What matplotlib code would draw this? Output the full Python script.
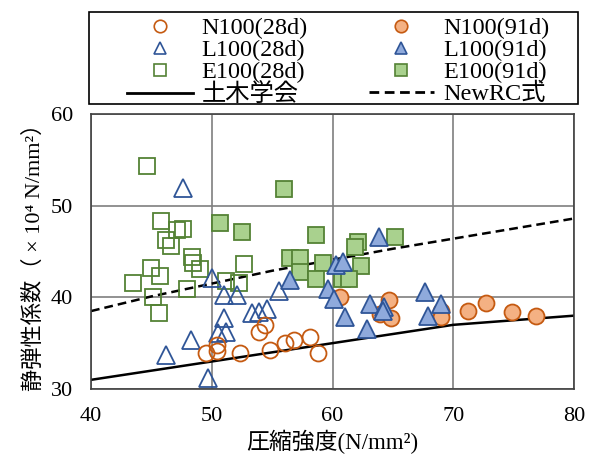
import numpy as np
import matplotlib.pyplot as plt
from matplotlib.lines import Line2D
from matplotlib.patches import Rectangle

plt.rcParams['font.family'] = ['Liberation Serif', 'Noto Sans CJK JP', 'DejaVu Serif']

# N100 (28d) open circles
n28_x = [49.5, 50.45, 50.45, 52.3, 53.9, 54.4, 54.85, 56.1, 56.85, 58.1, 58.8]
n28_y = [33.9, 34.8, 34.2, 33.9, 36.25, 37.0, 34.25, 35.0, 35.35, 35.7, 33.95]
# N100 (91d) filled circles
n91_x = [60.65, 64.65, 63.9, 64.85, 69.0, 69.0, 71.25, 72.75, 74.85, 76.85]
n91_y = [40.0, 39.7, 38.2, 37.7, 38.55, 37.9, 38.55, 39.4, 38.45, 37.95]
# L100 (28d) open triangles
l28_x = [47.6, 50.0, 51.0, 52.05, 51.0, 50.5, 51.2, 48.25, 46.25, 49.65, 53.3, 53.9, 54.6, 55.55]
l28_y = [51.9, 42.15, 40.25, 40.25, 37.8, 36.1, 36.25, 35.3, 33.7, 31.2, 38.25, 38.45, 38.7, 40.7]
# L100 (91d) filled triangles
l91_x = [63.85, 60.3, 60.85, 59.6, 60.1, 61.05, 63.1, 64.3, 64.15, 62.85, 67.65, 67.95, 69.0, 56.45]
l91_y = [46.6, 43.5, 43.9, 40.95, 39.8, 37.9, 39.25, 38.95, 38.55, 36.6, 40.6, 37.95, 39.25, 41.9]
# E100 (28d) open squares
e28_x = [44.6, 45.8, 47.1, 47.6, 46.2, 46.6, 48.4, 48.45, 49.05, 44.95, 45.7, 43.5, 47.95,
         45.1, 45.6, 52.65, 51.2, 52.25]
e28_y = [54.3, 48.35, 47.35, 47.5, 46.25, 45.6, 44.45, 43.7, 43.05, 43.15, 42.3, 41.6, 40.9,
         40.0, 38.25, 43.65, 41.75, 41.6]
# E100 (91d) filled squares
e91_x = [55.95, 50.65, 52.5, 58.6, 56.5, 57.3, 59.25, 57.3, 58.65, 62.1, 61.85, 65.2, 62.35, 60.8, 61.35]
e91_y = [51.8, 48.1, 47.1, 46.85, 44.25, 44.25, 43.8, 42.8, 42.0, 46.05, 45.45, 46.6, 43.4, 42.0, 42.0]

# design curves
jsce_x = [40, 50, 60, 70, 80]
jsce_y = [31, 33, 35, 37, 38]
newrc_x = [40, 45, 50, 55, 60, 65, 70, 75, 80]
newrc_y = [38.5, 40.1, 41.5, 42.9, 44.1, 45.3, 46.4, 47.5, 48.6]

orange_e, orange_f = '#C55A11', '#F4B183'
blue_e, blue_f = '#2F5597', '#8FAADC'
green_e, green_f = '#548235', '#A9D18E'

W, H = 593, 457
fig = plt.figure(figsize=(W / 100, H / 100), dpi=100)
ax = fig.add_axes([91 / W, 1 - 389 / H, (574 - 91) / W, (389 - 114) / H])

dash = (0, (3.5, 2))
ax.plot(jsce_x, jsce_y, color='black', lw=1.8, zorder=2)
ax.plot(newrc_x, newrc_y, color='black', lw=1.8, ls=dash, zorder=2)

ms = 11.5
ax.plot(e28_x, e28_y, 's', ms=ms, mfc='none', mec=green_e, mew=1.3, zorder=3)
ax.plot(l28_x, l28_y, '^', ms=ms + 1, mfc='none', mec=blue_e, mew=1.3, zorder=3)
ax.plot(n28_x, n28_y, 'o', ms=ms, mfc='none', mec=orange_e, mew=1.3, zorder=3)
ax.plot(e91_x, e91_y, 's', ms=ms, mfc=green_f, mec=green_e, mew=1.3, zorder=4)
ax.plot(n91_x, n91_y, 'o', ms=ms, mfc=orange_f, mec=orange_e, mew=1.3, zorder=4)
ax.plot(l91_x, l91_y, '^', ms=ms + 1, mfc=blue_f, mec=blue_e, mew=1.3, zorder=4)

ax.set_xlim(40, 80)
ax.set_ylim(30, 60)
ax.set_xticks([40, 50, 60, 70, 80])
ax.set_yticks([30, 40, 50, 60])
ax.tick_params(length=0, labelsize=16)
ax.tick_params(axis='y', pad=13)
ax.tick_params(axis='x', pad=13)
ax.grid(color='#7f7f7f', lw=1.2)
ax.set_axisbelow(True)
for s in ax.spines.values():
    s.set_color('#404040')
    s.set_linewidth(1.2)

ax.set_xlabel('圧縮強度(N/mm²)', fontsize=16.5, labelpad=3)
ax.set_ylabel('静弾性係数（ × 10⁴ N/mm²）', fontsize=16, labelpad=4)

# legend frame drawn separately, entries placed inside it
fig.patches.append(Rectangle((89 / W, 1 - 104 / H), 489 / W, 92 / H,
                             transform=fig.transFigure, fill=False,
                             ec='black', lw=1.2))

lms = 9
handles = [
    Line2D([], [], ls='none', marker='o', ms=lms, mfc='none', mec=orange_e, mew=1.2),
    Line2D([], [], ls='none', marker='^', ms=lms, mfc='none', mec=blue_e, mew=1.2),
    Line2D([], [], ls='none', marker='s', ms=lms, mfc='none', mec=green_e, mew=1.2),
    Line2D([], [], color='black', lw=2),
    Line2D([], [], ls='none', marker='o', ms=lms, mfc=orange_f, mec=orange_e, mew=1.2),
    Line2D([], [], ls='none', marker='^', ms=lms, mfc=blue_f, mec=blue_e, mew=1.2),
    Line2D([], [], ls='none', marker='s', ms=lms, mfc=green_f, mec=green_e, mew=1.2),
    Line2D([], [], color='black', lw=2, ls=dash),
]
labels = ['N100(28d)', 'L100(28d)', 'E100(28d)', '土木学会',
          'N100(91d)', 'L100(91d)', 'E100(91d)', 'NewRC式']
fig.legend(handles, labels, ncol=2, loc='upper left',
           bbox_to_anchor=(127 / W, 1 - 17 / H), borderaxespad=0,
           fontsize=17.5, frameon=False,
           handlelength=2.7, handletextpad=0.37, labelspacing=0.0,
           borderpad=0, columnspacing=2.5)

fig.savefig('out.png', dpi=100)
